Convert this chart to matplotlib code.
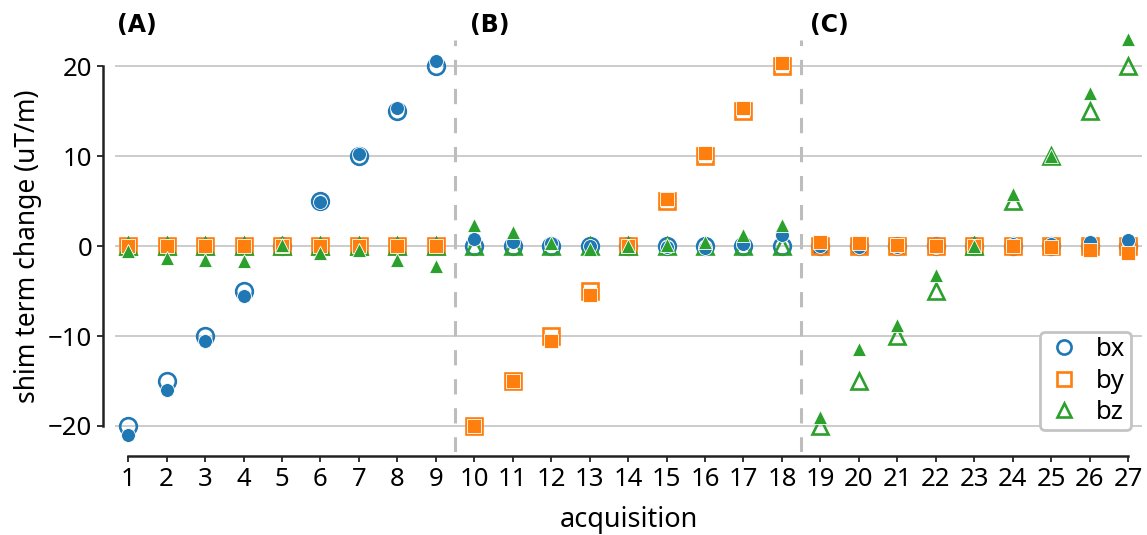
import numpy as np
import matplotlib
matplotlib.use("Agg")
import matplotlib.pyplot as plt

plt.rcParams['font.family'] = ['Noto Sans', 'DejaVu Sans']

acquisition = list(range(1, 28))
# nominal (requested) shim changes, uT/m
bx_nominal = [-20, -15, -10, -5, 0, 5, 10, 15, 20] + [0] * 18
by_nominal = [0] * 9 + [-20, -15, -10, -5, 0, 5, 10, 15, 20] + [0] * 9
bz_nominal = [0] * 18 + [-20, -15, -10, -5, 0, 5, 10, 15, 20]
# measured shim changes, uT/m
bx_measured = [-21.0, -16.0, -10.6, -5.6, 0.0, 4.9, 10.2, 15.3, 20.6,
               0.8, 0.5, 0.3, 0.0, 0.0, -0.1, -0.2, 0.2, 1.2,
               0.0, -0.1, -0.1, -0.05, 0.0, 0.2, 0.2, 0.5, 0.7]
by_measured = [0.0] * 9 + [-20.0, -15.0, -10.6, -5.4, 0.0, 5.2, 10.3, 15.3, 20.4] + \
              [0.5, 0.3, 0.1, 0.0, 0.0, 0.0, -0.1, -0.4, -0.8]
bz_measured = [-0.5, -1.3, -1.5, -1.7, 0.1, -0.8, -0.4, -1.5, -2.2,
               2.4, 1.6, 0.4, -0.3, 0.0, 0.1, 0.5, 1.2, 2.3,
               -19.0, -11.4, -8.8, -3.2, 0.0, 5.8, 10.0, 17.0, 23.0]
series_names = ['bx', 'by', 'bz']
panel_labels = ['(A)', '(B)', '(C)']
panel_label_x = [0.72, 9.9, 18.72]
separators = [9.5, 18.5]
yticks = [-20, -10, 0, 10, 20]

colors = ['#1f77b4', '#ff7f0e', '#2ca02c']
markers = ['o', 's', '^']
nominals = [bx_nominal, by_nominal, bz_nominal]
measureds = [bx_measured, by_measured, bz_measured]

fig = plt.figure(figsize=(11.47, 5.35), dpi=100)
ax = fig.add_axes([0.1003, 0.155, 0.8953, 0.770])

for y in yticks:
    ax.axhline(y, color='#c4c4c4', lw=1.2, zorder=0)
for xs in separators:
    ax.axvline(xs, color='#bdbdbd', lw=2.2, ls=(0, (5, 4.5)), zorder=0.5)

for name, nom, col, mk in zip(series_names, nominals, colors, markers):
    ax.plot(acquisition, nom, ls='none', marker=mk, ms=12, mfc='none',
            mec=col, mew=1.9, zorder=2, label=name, clip_on=False)
for name, meas, col, mk in zip(series_names, measureds, colors, markers):
    ax.plot(acquisition, meas, ls='none', marker=mk, ms=10, mfc=col,
            mec='white', mew=0.6, zorder=3, clip_on=False)

ax.set_xlim(0.66, 27.36)
ax.set_ylim(-22.9, 22.9)
ax.set_xticks(acquisition)
ax.set_yticks(yticks)
ax.set_yticklabels([str(t).replace('-', '\u2212') for t in yticks])

for s in ['top', 'right']:
    ax.spines[s].set_visible(False)
ax.spines['left'].set_position(('outward', 9))
ax.spines['bottom'].set_position(('outward', 3))
ax.spines['left'].set_bounds(-20, 20)
ax.spines['bottom'].set_bounds(1, 27)
for s in ['left', 'bottom']:
    ax.spines[s].set_linewidth(1.8)
    ax.spines[s].set_color('#222222')
ax.tick_params(axis='both', which='major', length=4, width=1.3,
               color='#222222', labelsize=18.5, pad=3.5)

ax.set_xlabel('acquisition', fontsize=19.5, labelpad=10)
ax.set_ylabel('shim term change (uT/m)', fontsize=19, labelpad=4)

for lab, lx in zip(panel_labels, panel_label_x):
    ax.text(lx, 23.8, lab, fontsize=17, fontweight='bold',
            family='DejaVu Sans', ha='left', va='baseline', clip_on=False)

leg = ax.legend(loc='lower right', bbox_to_anchor=(0.989, 0.053), borderaxespad=0,
                fontsize=18.5, markerscale=0.85, handletextpad=0.5, borderpad=0.2,
                labelspacing=0.25, handlelength=1.5, frameon=True, fancybox=True)
leg.get_frame().set_edgecolor('#c4c4c4')
leg.get_frame().set_linewidth(2)
leg.get_frame().set_alpha(1)

fig.savefig('out.png', dpi=100)
